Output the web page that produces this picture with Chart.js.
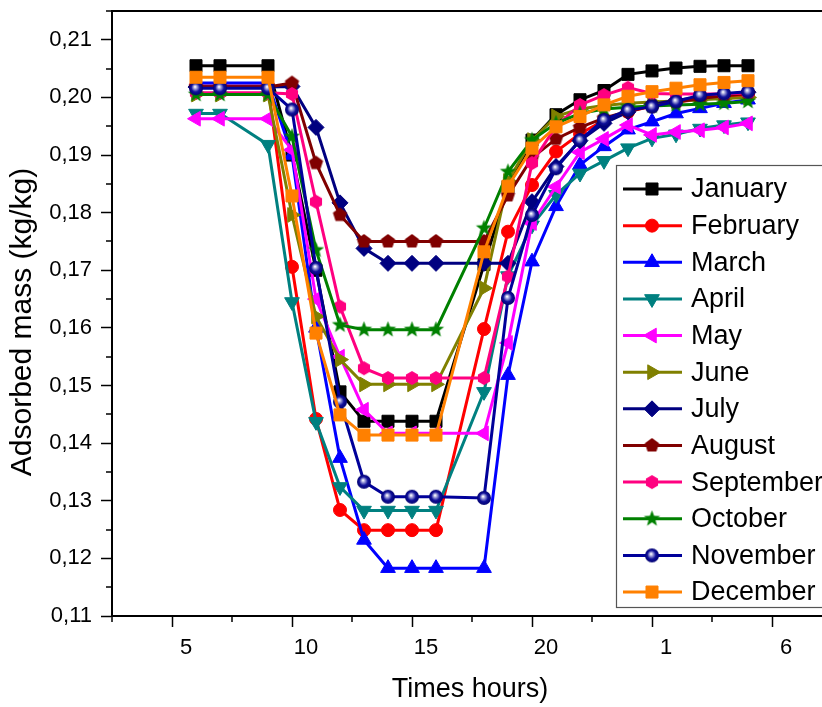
<!DOCTYPE html>
<html>
<head>
<meta charset="utf-8">
<script src="https://cdn.jsdelivr.net/npm/chart.js@4.4.1/dist/chart.umd.min.js"></script>
<style>
  html, body { margin: 0; padding: 0; background: #fff; overflow: hidden; }
  #wrap { width: 860px; height: 707px; }
</style>
</head>
<body>
<div id="wrap"><canvas id="chart" width="860" height="707"></canvas></div>
<script>
// hours of the day (25..29 = 1..5 h of the next day)
const hours = [6, 7, 9, 10, 11, 12, 13, 14, 15, 16, 18, 19, 20, 21, 22, 23, 24, 25, 26, 27, 28, 29];

const january   = [0.2055, 0.2055, 0.2055, 0.1900, 0.1700, 0.1489, 0.1438, 0.1438, 0.1438, 0.1438, 0.1710, 0.1845, 0.1926, 0.1970, 0.1996, 0.2012, 0.2040, 0.2046, 0.2051, 0.2054, 0.2055, 0.2055];
const february  = [0.2020, 0.2020, 0.2020, 0.1706, 0.1442, 0.1284, 0.1249, 0.1249, 0.1249, 0.1249, 0.1598, 0.1767, 0.1848, 0.1906, 0.1937, 0.1960, 0.1975, 0.1985, 0.1992, 0.1997, 0.2001, 0.2004];
const march     = [0.2025, 0.2025, 0.2025, 0.1900, 0.1600, 0.1374, 0.1232, 0.1183, 0.1183, 0.1183, 0.1183, 0.1518, 0.1715, 0.1811, 0.1883, 0.1915, 0.1944, 0.1958, 0.1972, 0.1981, 0.1990, 0.1996];
const april     = [0.1972, 0.1972, 0.1918, 0.1645, 0.1437, 0.1324, 0.1283, 0.1283, 0.1283, 0.1283, 0.1489, 0.1690, 0.1778, 0.1831, 0.1868, 0.1890, 0.1912, 0.1929, 0.1936, 0.1946, 0.1952, 0.1957];
const may       = [0.1963, 0.1963, 0.1963, 0.1909, 0.1650, 0.1550, 0.1458, 0.1417, 0.1417, 0.1417, 0.1417, 0.1574, 0.1782, 0.1845, 0.1905, 0.1928, 0.1952, 0.1935, 0.1940, 0.1943, 0.1948, 0.1955];
const june      = [0.2005, 0.2005, 0.2005, 0.1796, 0.1620, 0.1545, 0.1502, 0.1502, 0.1502, 0.1502, 0.1669, 0.1855, 0.1926, 0.1967, 0.1980, 0.1986, 0.1990, 0.1992, 0.1994, 0.1996, 0.1998, 0.2000];
const july      = [0.2018, 0.2018, 0.2018, 0.2019, 0.1948, 0.1817, 0.1738, 0.1712, 0.1712, 0.1712, 0.1712, 0.1712, 0.1819, 0.1880, 0.1925, 0.1955, 0.1975, 0.1988, 0.1995, 0.2000, 0.2005, 0.2009];
const august    = [0.2018, 0.2018, 0.2018, 0.2025, 0.1886, 0.1796, 0.1750, 0.1750, 0.1750, 0.1750, 0.1750, 0.1830, 0.1895, 0.1928, 0.1948, 0.1964, 0.1976, 0.1985, 0.1992, 0.1998, 0.2003, 0.2007];
const september = [0.2008, 0.2008, 0.2008, 0.2006, 0.1819, 0.1637, 0.1530, 0.1513, 0.1513, 0.1513, 0.1513, 0.1689, 0.1886, 0.1950, 0.1987, 0.2004, 0.2017, 0.2007, 0.2006, 0.2006, 0.2006, 0.2008];
const october   = [0.2005, 0.2005, 0.2005, 0.1932, 0.1735, 0.1605, 0.1597, 0.1597, 0.1597, 0.1597, 0.1773, 0.1871, 0.1926, 0.1955, 0.1972, 0.1980, 0.1983, 0.1985, 0.1987, 0.1988, 0.1990, 0.1993];
const november  = [0.2016, 0.2016, 0.2016, 0.1979, 0.1704, 0.1472, 0.1333, 0.1307, 0.1307, 0.1307, 0.1305, 0.1652, 0.1796, 0.1877, 0.1926, 0.1961, 0.1978, 0.1984, 0.1993, 0.2004, 0.2007, 0.2010];
const december  = [0.2035, 0.2035, 0.2035, 0.1829, 0.1591, 0.1449, 0.1414, 0.1414, 0.1414, 0.1414, 0.1732, 0.1846, 0.1912, 0.1949, 0.1967, 0.1987, 0.2002, 0.2010, 0.2016, 0.2022, 0.2026, 0.2029];

const seriesNames  = ['January', 'February', 'March', 'April', 'May', 'June', 'July', 'August', 'September', 'October', 'November', 'December'];
const seriesValues = [january, february, march, april, may, june, july, august, september, october, november, december];

// x axis: tick values and the clock labels printed under them
const xTickValues = [5, 10, 15, 20, 25, 30];
const xTickLabels = ['5', '10', '15', '20', '1', '6'];

// --- marker images for the symbols Chart.js does not have ---
function markerCanvas(size, paint) {
  const c = document.createElement('canvas');
  c.width = size; c.height = size;
  paint(c.getContext('2d'), size / 2);
  return c;
}
function polygonMarker(color, sides, r) {
  return markerCanvas(Math.ceil(r * 2 + 2), (g, c) => {
    g.fillStyle = color;
    g.beginPath();
    for (let i = 0; i < sides; i++) {
      const a = -Math.PI / 2 + i * 2 * Math.PI / sides;
      g.lineTo(c + r * Math.cos(a), c + r * Math.sin(a));
    }
    g.closePath();
    g.fill();
  });
}
function starMarker(color, R, r) {
  return markerCanvas(Math.ceil(R * 2 + 2), (g, c) => {
    g.fillStyle = color;
    g.beginPath();
    for (let i = 0; i < 10; i++) {
      const a = -Math.PI / 2 + i * Math.PI / 5;
      const rr = i % 2 ? r : R;
      g.lineTo(c + rr * Math.cos(a), c + rr * Math.sin(a));
    }
    g.closePath();
    g.fill();
  });
}
function sphereMarker(r) {
  return markerCanvas(Math.ceil(r * 2 + 2), (g, c) => {
    const grad = g.createRadialGradient(c - 1, c - 1.5, 0.3, c, c, r);
    grad.addColorStop(0, '#ffffff');
    grad.addColorStop(0.25, '#9a9ad8');
    grad.addColorStop(0.6, '#10109a');
    grad.addColorStop(1, '#000070');
    g.fillStyle = grad;
    g.beginPath();
    g.arc(c, c, r, 0, Math.PI * 2);
    g.fill();
  });
}

const seriesStyles = [
  { color: '#000000', point: 'rect',     rot: 0,   radius: 8.5 },
  { color: '#FF0000', point: 'circle',   rot: 0,   radius: 6.5 },
  { color: '#0000FF', point: 'triangle', rot: 0,   radius: 8.5 },
  { color: '#008080', point: 'triangle', rot: 180, radius: 8.5 },
  { color: '#FF00FF', point: 'triangle', rot: 270, radius: 8.5 },
  { color: '#808000', point: 'triangle', rot: 90,  radius: 8.5 },
  { color: '#000080', point: 'rectRot',  rot: 0,   radius: 8 },
  { color: '#800000', point: polygonMarker('#800000', 5, 7.5), rot: 0, radius: 8 },
  { color: '#FF0080', point: polygonMarker('#FF0080', 6, 7),   rot: 0, radius: 8 },
  { color: '#008000', point: starMarker('#008000', 8.5, 3.6),  rot: 0, radius: 8 },
  { color: '#00009A', point: sphereMarker(7),                  rot: 0, radius: 8 },
  { color: '#FF8000', point: 'rect',     rot: 0,   radius: 8.5 }
];

const FONT = "'Liberation Sans', Arial, sans-serif";

const datasets = seriesNames.map((name, i) => ({
  label: name,
  data: hours.map((h, k) => ({ x: h, y: seriesValues[i][k] })),
  borderColor: seriesStyles[i].color,
  backgroundColor: seriesStyles[i].color,
  borderWidth: 3,
  pointStyle: seriesStyles[i].point,
  pointRotation: seriesStyles[i].rot,
  pointRadius: seriesStyles[i].radius,
  pointBorderWidth: 1,
  pointBackgroundColor: seriesStyles[i].color,
  pointBorderColor: seriesStyles[i].color,
  tension: 0,
  fill: false,
  order: seriesNames.length - 1 - i   // later months drawn on top
}));

// minor ticks, frame, titles and legend box
const extras = {
  id: 'extras',
  afterDraw(chart) {
    const { ctx, chartArea: a, scales: { x, y } } = chart;
    ctx.save();
    ctx.strokeStyle = '#000';
    ctx.lineWidth = 2;
    // top and right frame
    ctx.beginPath();
    ctx.moveTo(a.left, a.top); ctx.lineTo(a.right, a.top); ctx.lineTo(a.right, a.bottom);
    ctx.stroke();
    // minor ticks
    ctx.lineWidth = 1.5;
    ctx.beginPath();
    for (let v = 2.5; v <= x.max + 1e-9; v += 5) {
      const px = Math.round(x.getPixelForValue(v));
      ctx.moveTo(px, a.bottom); ctx.lineTo(px, a.bottom + 6);
    }
    for (let v = 0.115; v <= y.max + 1e-9; v += 0.01) {
      const py = Math.round(y.getPixelForValue(v));
      ctx.moveTo(a.left - 6, py); ctx.lineTo(a.left, py);
    }
    ctx.stroke();

    // axis titles
    ctx.fillStyle = '#000';
    ctx.textAlign = 'center';
    ctx.textBaseline = 'middle';
    ctx.font = '27px ' + FONT;
    ctx.fillText('Times hours)', 470, 690);
    ctx.save();
    ctx.translate(23, 322);
    ctx.rotate(-Math.PI / 2);
    ctx.font = '30px ' + FONT;
    ctx.fillText('Adsorbed mass (kg/kg)', 0, 0);
    ctx.restore();

    // legend
    const bx = 616, by = 165, rowH = 36.64;
    ctx.fillStyle = '#fff';
    ctx.fillRect(bx, by, a.right - bx - 6, 442);
    ctx.strokeStyle = '#555';
    ctx.lineWidth = 1.2;
    ctx.strokeRect(bx + 0.5, by + 0.5, a.right - bx - 6, 442);
    ctx.font = '27px ' + FONT;
    ctx.textAlign = 'left';
    chart.data.datasets.forEach((ds, i) => {
      const yy = by + 24 + i * rowH;
      ctx.strokeStyle = ds.borderColor;
      ctx.lineWidth = 3;
      ctx.beginPath(); ctx.moveTo(623, yy); ctx.lineTo(682, yy); ctx.stroke();
      ctx.fillStyle = ds.borderColor;
      ctx.strokeStyle = ds.borderColor;
      ctx.lineWidth = 1;
      Chart.helpers.drawPoint(ctx, {
        pointStyle: ds.pointStyle, rotation: ds.pointRotation,
        radius: ds.pointRadius, borderWidth: 1
      }, 652, yy);
      ctx.fillStyle = '#000';
      ctx.fillText(ds.label, 691, yy + 1);
    });
    ctx.restore();
  }
};

new Chart(document.getElementById('chart'), {
  type: 'line',
  data: { datasets },
  options: {
    responsive: false,
    animation: false,
    layout: { padding: { top: 11, right: 28, left: 0, bottom: 0 } },
    plugins: { legend: { display: false }, tooltip: { enabled: false } },
    scales: {
      x: {
        type: 'linear', min: 2.5, max: 32.5,
        afterFit: s => { s.height = 91; s.paddingLeft = 0; s.paddingRight = 0; },
        border: { color: '#000', width: 2 },
        grid: {
          drawOnChartArea: false, tickLength: 11,
          tickColor: c => (c.tick && xTickValues.includes(c.tick.value)) ? '#000' : 'rgba(0,0,0,0)',
          tickWidth: 1.5
        },
        ticks: {
          stepSize: 2.5, autoSkip: false, maxRotation: 0, labelOffset: 14, padding: 8,
          color: '#000', font: { family: FONT, size: 22 },
          callback: v => { const k = xTickValues.indexOf(v); return k >= 0 ? xTickLabels[k] : ''; }
        }
      },
      y: {
        min: 0.11, max: 0.215,
        afterFit: s => { s.width = 112; s.paddingTop = 0; s.paddingBottom = 0; },
        border: { color: '#000', width: 2 },
        grid: {
          drawOnChartArea: false, tickLength: 11,
          tickColor: c => (c.tick && Math.round(c.tick.value * 1000) % 10 === 0) ? '#000' : 'rgba(0,0,0,0)',
          tickWidth: 1.5
        },
        ticks: {
          stepSize: 0.005, autoSkip: false, padding: 9,
          color: '#000', font: { family: FONT, size: 22 },
          callback: v => Math.round(v * 1000) % 10 === 0 ? v.toFixed(2).replace('.', ',') : ''
        }
      }
    }
  },
  plugins: [extras]
});
</script>
</body>
</html>
